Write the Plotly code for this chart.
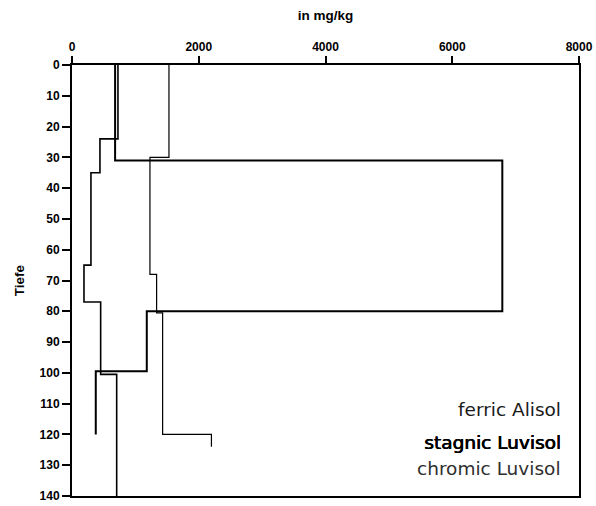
import plotly.graph_objects as go

# Depth profiles (layer tops in cm, concentration in mg/kg per layer)
ferric_tops = [0, 24, 35, 65, 77, 100.5]
ferric_vals = [725, 441, 299, 189, 452, 705]
ferric_bottom = 140

stagnic_tops = [0, 31, 80, 99.5]
stagnic_vals = [680, 6790, 1180, 375]
stagnic_bottom = 120

chromic_tops = [0, 30, 68, 80.5, 120]
chromic_vals = [1530, 1230, 1335, 1430, 2200]
chromic_bottom = 124

x_ticks = [0, 2000, 4000, 6000, 8000]
y_ticks = list(range(0, 141, 10))

profiles = [
    # name, tops, values, bottom, line width, text shadow, text colour, key y
    ("ferric Alisol", ferric_tops, ferric_vals, ferric_bottom, 1.6, "none", "#1a1a1a", 0.200),
    ("stagnic Luvisol", stagnic_tops, stagnic_vals, stagnic_bottom, 2.0,
     "0.7px 0px 0px #000, 0.35px 0px 0px #000", "#000000", 0.124),
    ("chromic Luvisol", chromic_tops, chromic_vals, chromic_bottom, 1.2, "none", "#2e2e2e", 0.063),
]

fig = go.Figure()
for name, tops, vals, bottom, w, _s, _c, _ky in profiles:
    fig.add_trace(go.Scatter(
        x=vals + [vals[-1]], y=tops + [bottom],
        mode="lines", line=dict(color="black", width=w, shape="vh"),
        name=name, showlegend=False, hoverinfo="skip",
    ))

# Text-only key in the lower right corner
for name, _t, _v, _b, _w, shadow, color, ky in profiles:
    fig.add_annotation(
        x=0.968, y=ky, xref="paper", yref="paper",
        xanchor="right", yanchor="middle", showarrow=False, text=name,
        font=dict(family="DejaVu Sans", size=18.5, color=color, shadow=shadow),
    )

tick_font = dict(family="Liberation Sans", size=12, color="black", weight="bold")
title_font = dict(family="Liberation Sans", size=13.5, color="black", weight="bold")
fig.update_layout(
    width=596, height=506,
    margin=dict(l=72, r=17, t=65, b=10, autoexpand=False),
    paper_bgcolor="white", plot_bgcolor="white",
    xaxis=dict(
        side="top", range=[0, 8000], tickvals=x_ticks, ticks="outside",
        ticklen=7, tickwidth=1.5, tickcolor="black", showgrid=False,
        zeroline=False, showline=True, linecolor="black", linewidth=2,
        mirror=True, tickfont=tick_font, automargin=False,
        title=dict(text="in mg/kg", standoff=16, font=title_font),
    ),
    yaxis=dict(
        range=[140, 0], tickvals=y_ticks, ticks="outside", ticklen=8,
        tickwidth=1.5, tickcolor="black", showgrid=False, zeroline=False,
        showline=True, linecolor="black", linewidth=2, mirror=True,
        tickfont=tick_font, automargin=False,
        title=dict(text="Tiefe", standoff=12, font=title_font),
    ),
)

fig.write_html("out.html")
